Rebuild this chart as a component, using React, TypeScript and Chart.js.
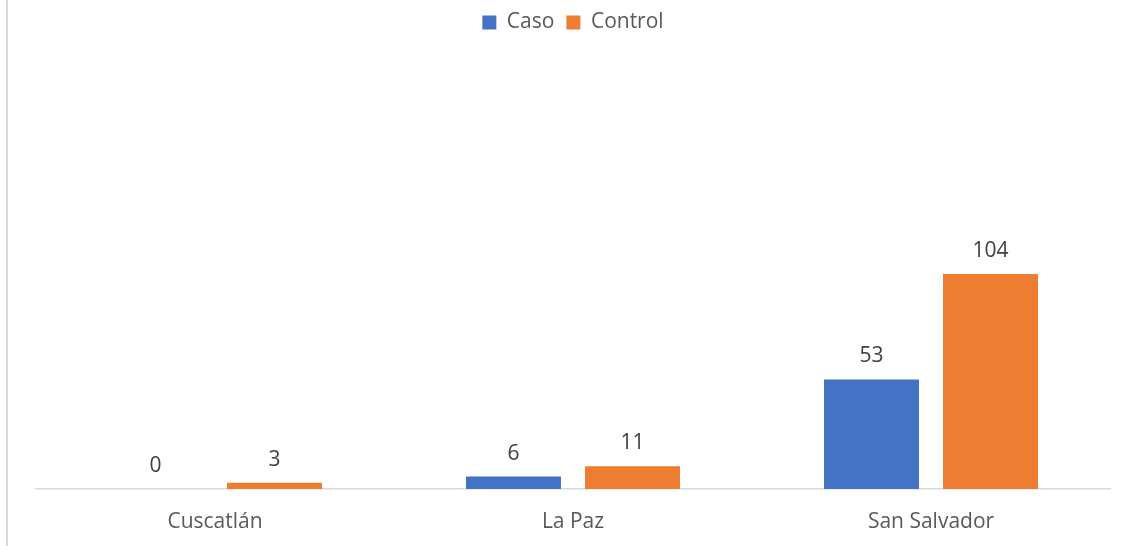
import React, { useEffect, useRef } from "react";
import { Chart, registerables } from "chart.js";

Chart.register(...registerables);

const categories = ["Cuscatlán", "La Paz", "San Salvador"];
const casoValues = [0, 6, 53];
const controlValues = [3, 11, 104];
const seriesNames = ["Caso", "Control"];

const FONT = "'Open Sans', 'Noto Sans', sans-serif";
const FONT_SIZE = 21;

const dataLabels = {
  id: "dataLabels",
  afterDatasetsDraw(chart: any) {
    const ctx = chart.ctx;
    ctx.save();
    ctx.font = `${FONT_SIZE}px ${FONT}`;
    ctx.fillStyle = "#404040";
    ctx.textAlign = "center";
    ctx.textBaseline = "middle";
    chart.data.datasets.forEach((ds: any, i: number) => {
      const meta = chart.getDatasetMeta(i);
      meta.data.forEach((bar: any, j: number) => {
        ctx.fillText(String(ds.data[j]), bar.x, bar.y - 23);
      });
    });
    ctx.restore();
  },
};

const legendSpacer = {
  id: "legendSpacer",
  beforeInit(chart: any) {
    const orig = chart.legend.fit;
    chart.legend.fit = function () {
      orig.call(this);
      this.height = 241;
    };
  },
};

export default function App() {
  const ref = useRef<HTMLCanvasElement>(null);
  useEffect(() => {
    const chart = new Chart(ref.current!, {
      type: "bar",
      data: {
        labels: categories,
        datasets: [
          {
            label: seriesNames[0],
            data: casoValues,
            backgroundColor: "#4472C4",
            categoryPercentage: 0.665,
            barPercentage: 0.798,
          },
          {
            label: seriesNames[1],
            data: controlValues,
            backgroundColor: "#ED7D31",
            categoryPercentage: 0.665,
            barPercentage: 0.798,
          },
        ],
      },
      options: {
        responsive: false,
        animation: false,
        layout: { padding: { left: 36, right: 16, top: 0, bottom: 0 } },
        plugins: {
          tooltip: { enabled: false },
          legend: {
            position: "top",
            align: "center",
            labels: {
              boxWidth: 14,
              boxHeight: 14,
              padding: 12,
              color: "#595959",
              font: { family: FONT, size: FONT_SIZE },
            },
          },
        },
        scales: {
          x: {
            grid: { display: false, drawTicks: false },
            border: { color: "#d9d9d9", width: 1.5 },
            ticks: {
              color: "#595959",
              padding: 20,
              font: { family: FONT, size: FONT_SIZE },
            },
            afterFit(scale: any) {
              scale.height = 546 - 489;
            },
          },
          y: {
            display: false,
            min: 0,
            max: 120,
          },
        },
      },
      plugins: [dataLabels, legendSpacer],
    });
    return () => chart.destroy();
  }, []);
  return (
    <div style={{ position: "absolute", left: 0, top: 0, width: 1126, height: 546, background: "#fff" }}>
      <div style={{ position: "absolute", left: 6, top: 0, width: 2, height: 546, background: "#d9d9d9" }} />
      <canvas ref={ref} width={1126} height={546} style={{ position: "absolute", left: 0, top: 0 }} />
    </div>
  );
}
